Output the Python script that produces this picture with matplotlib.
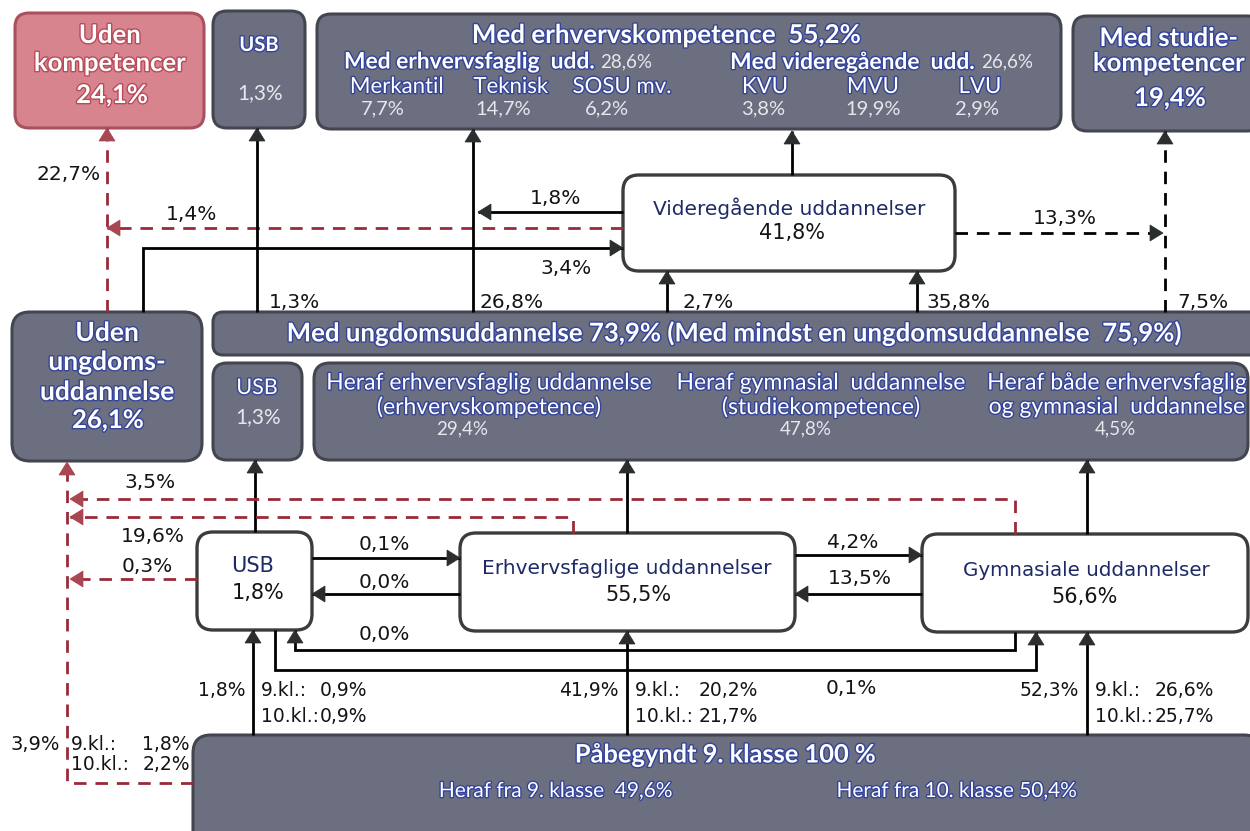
import matplotlib
matplotlib.use("Agg")
import matplotlib.pyplot as plt
from matplotlib.patches import FancyBboxPatch, Polygon
import matplotlib.patheffects as pe
import math

plt.rcParams['font.family'] = ['DejaVu Sans']

# ------------------------------------------------------------------ data
def pct(v):
    return f"{v:.1f}".replace('.', ',') + "%"

# outcome boxes (top row)
uden_kompetencer = 24.1
usb_final = 1.3
erhvervskompetence = 55.2
erhvervsfaglig_udd = 28.6
videregaaende_udd = 26.6
erhv_sub_labels = ["Merkantil", "Teknisk", "SOSU mv."]
erhv_sub_values = [7.7, 14.7, 6.2]
vid_sub_labels = ["KVU", "MVU", "LVU"]
vid_sub_values = [3.8, 19.9, 2.9]
studiekompetencer = 19.4

# videregående
videregaaende_total = 41.8
vid_flows = {"to_erhv": 1.8, "to_uden": 1.4, "from_uden_ung": 3.4, "to_studie": 13.3}

# flows from youth education level to top
ung_up_flows = {"uden_to_uden_komp": 22.7, "usb": 1.3, "erhv": 26.8,
                "to_vid_1": 2.7, "to_vid_2": 35.8, "studie": 7.5}

# middle level
uden_ungdom = 26.1
med_ungdom = 73.9
mindst_en_ungdom = 75.9
usb_mid = 1.3
heraf_titles = [["Heraf erhvervsfaglig uddannelse", "(erhvervskompetence)"],
                ["Heraf gymnasial  uddannelse", "(studiekompetence)"],
                ["Heraf både erhvervsfaglig", "og gymnasial  uddannelse"]]
heraf_values = [29.4, 47.8, 4.5]

# youth education programmes
youth_names = ["USB", "Erhvervsfaglige uddannelser", "Gymnasiale uddannelser"]
youth_values = [1.8, 55.5, 56.6]
dropout_flows = {"gym": 3.5, "erhv": 19.6, "usb": 0.3}
switch_flows = {"usb_to_erhv": 0.1, "erhv_to_usb": 0.0, "erhv_to_gym": 4.2,
                "gym_to_erhv": 13.5, "gym_to_usb": 0.0, "usb_to_gym": 0.1}

# entry from 9. klasse
entry_total = [1.8, 41.9, 52.3]
entry_9kl = [0.9, 20.2, 26.6]
entry_10kl = [0.9, 21.7, 25.7]
no_entry = 3.9
no_entry_9kl = 1.8
no_entry_10kl = 2.2
start_total = "100 %"
start_from_9 = 49.6
start_from_10 = 50.4

# ------------------------------------------------------------------ style
GRAY = '#6b6f7f'
GRAY_EDGE = '#43464f'
PINK = '#d8848f'
PINK_EDGE = '#a9505f'
RED = '#9a2a3a'
RED_HEAD = '#a84652'
NAVY = '#1d2a66'
TXT = '#141414'
SUBW = '#e6e8ee'
HEAD_FONT = ['Lato', 'DejaVu Sans']
LAB_FONT = ['DejaVu Sans']
LS = 14.5   # flow label size

fig = plt.figure(figsize=(12.5, 8.31), dpi=100)
ax = fig.add_axes([0, 0, 1, 1])
ax.set_xlim(0, 1250)
ax.set_ylim(831, 0)
ax.axis('off')

blue_fx = [pe.withStroke(linewidth=2.0, foreground='#34449a')]
pink_fx = [pe.withStroke(linewidth=2.0, foreground='#b84a5a')]


def box(x0, y0, x1, y1, fc, ec, r=14, lw=2.2):
    ax.add_patch(FancyBboxPatch((x0, y0), x1 - x0, y1 - y0,
                                boxstyle=f"round,pad=0,rounding_size={r}",
                                fc=fc, ec=ec, lw=lw, zorder=2))


def head(x1, y1, ux, uy, color, hl=13, hw=8):
    bx, by = x1 - ux * hl, y1 - uy * hl
    px, py = -uy, ux
    ax.add_patch(Polygon([(x1, y1), (bx + px * hw, by + py * hw),
                          (bx - px * hw, by - py * hw)], closed=True,
                         fc=color, ec=color, lw=0.5, zorder=5))


def path(points, color='black', dashed=False, lw=2.0, arrow=True, hcolor=None):
    xs = [p[0] for p in points]
    ys = [p[1] for p in points]
    ls = (0, (4.5, 3.2)) if dashed else '-'
    ax.plot(xs, ys, color=color, lw=lw, ls=ls, solid_capstyle='butt',
            solid_joinstyle='miter', zorder=3)
    if arrow:
        (xa, ya), (xb, yb) = points[-2], points[-1]
        L = math.hypot(xb - xa, yb - ya)
        head(xb, yb, (xb - xa) / L, (yb - ya) / L, hcolor or ('#2a2e2e' if color == 'black' else color))


def t(x, y, s, size=LS, color=TXT, ha='center', weight='normal', fam=LAB_FONT, fx=None):
    ax.text(x, y, s, fontsize=size, color=color, ha=ha, va='center',
            fontweight=weight, family=fam, path_effects=fx, zorder=6)


def wb(x, y, s, size, ha='center', weight='bold', fx=None):
    t(x, y, s, size, 'white', ha=ha, weight=weight, fam=HEAD_FONT, fx=fx or blue_fx)


def sub(x, y, s, size, ha='center'):
    t(x, y, s, size, SUBW, ha=ha, fam=HEAD_FONT)


# ------------------------------------------------------------------ top row
box(15, 13, 204, 128, PINK, PINK_EDGE)
wb(110, 35, "Uden", 18.5, fx=pink_fx)
wb(110, 63, "kompetencer", 18.5, fx=pink_fx)
wb(112, 95, pct(uden_kompetencer), 18.5, fx=pink_fx)

box(213, 11, 305, 128, GRAY, GRAY_EDGE)
wb(259, 45, "USB", 14.5)
sub(260, 93, pct(usb_final), 15)

box(317, 14, 1061, 129, GRAY, GRAY_EDGE)
wb(667, 35, f"Med erhvervskompetence  {pct(erhvervskompetence)}", 18.7)
wb(594, 62, "Med erhvervsfaglig  udd.", 16.4, ha='right')
sub(600, 62, pct(erhvervsfaglig_udd), 13.5, ha='left')
wb(974, 62, "Med videregående  udd.", 16.4, ha='right')
sub(981, 62, pct(videregaaende_udd), 13.5, ha='left')
sub_x = [397, 511, 622, 765, 873, 980]
val_x = [383, 503, 607, 763, 873, 977]
for lab, v, xl, xv in zip(erhv_sub_labels + vid_sub_labels,
                          erhv_sub_values + vid_sub_values, sub_x, val_x):
    wb(xl, 87, lab, 16, weight='normal')
    sub(xv, 109, pct(v), 14.5)

box(1073, 16, 1262, 131, GRAY, GRAY_EDGE)
wb(1169, 38, "Med studie-", 18.5)
wb(1169, 63, "kompetencer", 18.5)
wb(1170, 98, pct(studiekompetencer), 18.5)

# ------------------------------------------------------------------ videregående
box(623, 175, 955, 271, 'white', '#3c3c3c', r=16, lw=2.4)
t(789, 208, "Videregående uddannelser", 14.5, NAVY)
t(792, 233, pct(videregaaende_total), 15, TXT)

path([(792, 175), (792, 131)])
path([(623, 212), (478, 212)])
t(556, 199, pct(vid_flows["to_erhv"]))
path([(623, 228), (107, 228)], color=RED, dashed=True, hcolor=RED_HEAD)
t(192, 214, pct(vid_flows["to_uden"]))
path([(143, 312), (143, 248), (623, 248)])
t(566, 268, pct(vid_flows["from_uden_ung"]))
path([(955, 233), (1163, 233)], dashed=True)
t(1065, 218, pct(vid_flows["to_studie"]))

# flows up from youth-education level
path([(107, 312), (107, 128)], color=RED, dashed=True, hcolor=RED_HEAD)
t(69, 174, pct(ung_up_flows["uden_to_uden_komp"]))
path([(257, 312), (257, 128)])
t(294, 302, pct(ung_up_flows["usb"]))
path([(473, 312), (473, 129)])
t(512, 302, pct(ung_up_flows["erhv"]))
path([(667, 312), (667, 271)])
t(708, 302, pct(ung_up_flows["to_vid_1"]))
path([(917, 312), (917, 271)])
t(958, 302, pct(ung_up_flows["to_vid_2"]))
path([(1165, 312), (1165, 131)], dashed=True)
t(1203, 302, pct(ung_up_flows["studie"]))

# ------------------------------------------------------------------ middle level
box(12, 312, 202, 461, GRAY, GRAY_EDGE, r=18)
wb(107, 333, "Uden", 19)
wb(107, 362, "ungdoms-", 19)
wb(107, 392, "uddannelse", 19)
wb(108, 420, pct(uden_ungdom), 18.5)

box(213, 312, 1262, 355, GRAY, GRAY_EDGE, r=10)
wb(737, 333, f"Med ungdomsuddannelse {pct(med_ungdom)} (Med mindst en ungdomsuddannelse  {pct(mindst_en_ungdom)})",
   18.6)

box(213, 363, 302, 460, GRAY, GRAY_EDGE)
wb(257, 388, "USB", 15.5, weight='normal')
sub(258, 417, pct(usb_mid), 15)

box(314, 363, 1248, 460, GRAY, GRAY_EDGE, r=16)
col_x = [489, 821, 1117]
val_cx = [462, 806, 1115]
for (l1, l2), v, cx, vx in zip(heraf_titles, heraf_values, col_x, val_cx):
    wb(cx, 383, l1, 16.5, weight='normal')
    wb(cx, 407, l2, 16.5, weight='normal')
    sub(vx, 429, pct(v), 13.5)

# ------------------------------------------------------------------ youth programmes
box(197, 532, 312, 630, 'white', '#3c3c3c', r=16, lw=2.4)
t(253, 566, youth_names[0], 15, NAVY)
t(258, 593, pct(youth_values[0]), 15, TXT)
box(460, 533, 795, 631, 'white', '#3c3c3c', r=16, lw=2.4)
t(627, 568, youth_names[1], 14.5, NAVY)
t(638, 595, pct(youth_values[1]), 15, TXT)
box(922, 534, 1248, 632, 'white', '#3c3c3c', r=16, lw=2.4)
t(1086, 570, youth_names[2], 14.3, NAVY)
t(1085, 597, pct(youth_values[2]), 15, TXT)

# up to middle level
path([(255, 532), (255, 460)])
path([(627, 533), (627, 460)])
path([(1087, 534), (1087, 460)])

# drop-outs (red dashed)
path([(1015, 534), (1015, 499), (70, 499)], color=RED, dashed=True, hcolor=RED_HEAD)
t(150, 482, pct(dropout_flows["gym"]))
path([(573, 533), (573, 517), (70, 517)], color=RED, dashed=True, hcolor=RED_HEAD)
t(153, 536, pct(dropout_flows["erhv"]))
path([(197, 579), (70, 579)], color=RED, dashed=True, hcolor=RED_HEAD)
t(147, 566, pct(dropout_flows["usb"]))
path([(193, 783), (67, 783), (67, 462)], color=RED, dashed=True, hcolor=RED_HEAD)
t(35, 745, pct(no_entry), 14)
t(71, 745, "9.kl.:", 13.5, ha='left')
t(190, 745, pct(no_entry_9kl), 13.5, ha='right')
t(71, 765, "10.kl.:", 13.5, ha='left')
t(190, 765, pct(no_entry_10kl), 13.5, ha='right')

# switches
path([(312, 558), (460, 558)])
t(384, 545, pct(switch_flows["usb_to_erhv"]))
path([(460, 594), (312, 594)])
t(384, 582, pct(switch_flows["erhv_to_usb"]))
path([(795, 555), (922, 555)])
t(853, 542, pct(switch_flows["erhv_to_gym"]))
path([(922, 594), (795, 594)])
t(860, 579, pct(switch_flows["gym_to_erhv"]))
path([(1015, 632), (1015, 650), (295, 650), (295, 630)])
t(384, 634, pct(switch_flows["gym_to_usb"]))
path([(275, 630), (275, 670), (1036, 670), (1036, 632)])
t(851, 688, pct(switch_flows["usb_to_gym"]))

# entry from 9. klasse
box(193, 735, 1262, 860, GRAY, GRAY_EDGE, r=18)
wb(725, 755, f"Påbegyndt 9. klasse {start_total}", 18.3)
wb(556, 791, f"Heraf fra 9. klasse  {pct(start_from_9)}", 15, weight='normal')
wb(957, 791, f"Heraf fra 10. klasse {pct(start_from_10)}", 15, weight='normal')

entry_x = [253, 627, 1087]
box_bottom = [630, 631, 632]
for i, (x, yb) in enumerate(zip(entry_x, box_bottom)):
    path([(x, 735), (x, yb)])
    t(x - 8, 691, pct(entry_total[i]), 13.5, ha='right')
    t(x + 8, 691, "9.kl.:", 13.5, ha='left')
    t(x + 8, 717, "10.kl.:", 13.5, ha='left')
for i, (x, w) in enumerate(zip(entry_x, [114, 131, 127])):
    t(x + w, 691, pct(entry_9kl[i]), 13.5, ha='right')
    t(x + w, 717, pct(entry_10kl[i]), 13.5, ha='right')

fig.savefig("out.png", dpi=100)
